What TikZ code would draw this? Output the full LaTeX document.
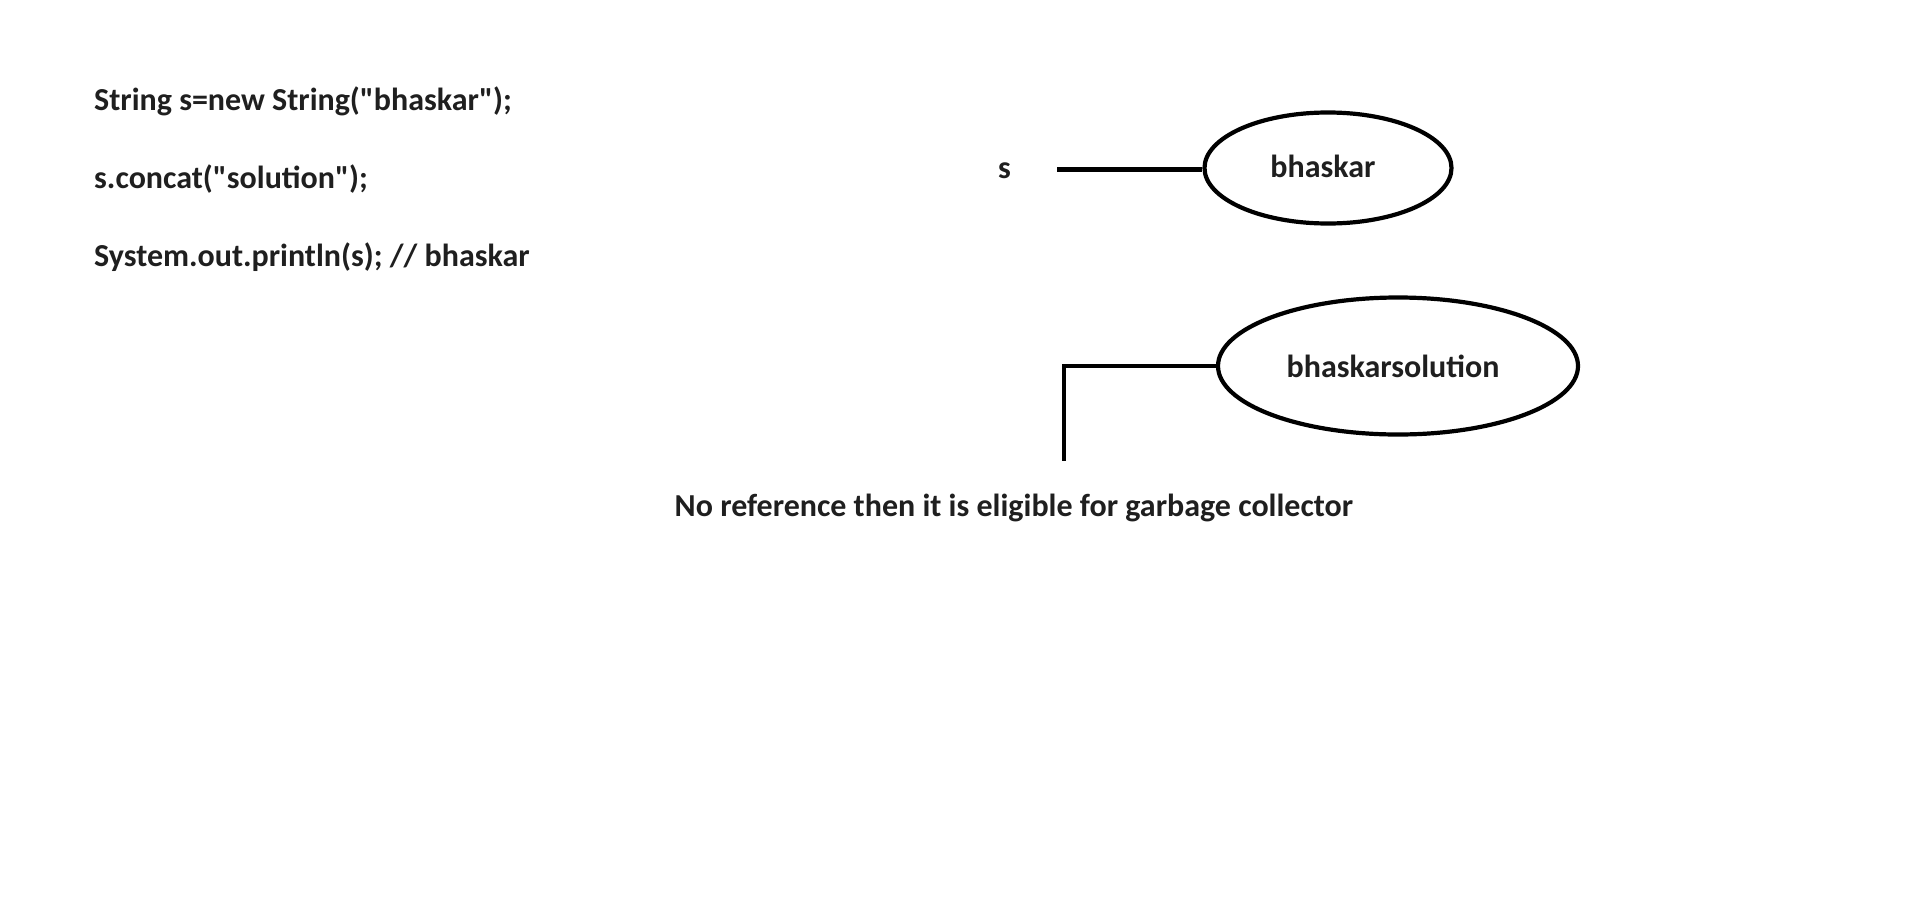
\documentclass[tikz,border=0pt]{standalone}
\usepackage{fontspec}
\setmainfont{Carlito}[Ligatures=TeXOff]
\usetikzlibrary{shapes.geometric}
\tikzset{
	codetext/.style={inner sep=0pt, font=\fontsize{32}{38}\selectfont\bfseries, text=black!88},
	strobj/.style={draw, ellipse, line width=4.2pt, inner sep=0pt, font=\fontsize{32}{38}\selectfont\bfseries, text=black!88},
	refline/.style={line width=4.2pt}
}

\begin{document}
\begin{tikzpicture}[x=1pt, y=-1pt]
			%%%%% START %%%%%
			\useasboundingbox[fill=white] (0, 0) rectangle (1913, 897);
			
			\node[codetext, anchor=west] (line1) at (94, 101) {String s=new String("bhaskar");};
			\node[codetext, anchor=west] (line2) at (94, 179) {s.concat("solution");};
			\node[codetext, anchor=west] (line3) at (94, 257) {System.out.println(s); // bhaskar};
			
			\node[codetext] (refs) at (1004.5, 171) {s};
			\coordinate (sref) at (1057, 169.5);
			
			\node[strobj, minimum width=247, minimum height=111] (objold) at (1328, 168) {\raisebox{4pt}{bhaskar}\hspace*{10pt}};
			\node[strobj, minimum width=360, minimum height=137] (objnew) at (1398, 366) {\raisebox{-3pt}{bhaskarsolution}\hspace*{10pt}};
			
			\draw[refline] (sref) -- (sref -| objold.west);
			
			\coordinate (dangling) at (1064, 461);
			\draw[refline] (objnew.west) -| (dangling);
			
			\node[codetext] (gcnote) at (1014, 508) {No reference then it is eligible for garbage collector};
			%%%%% END %%%%%
\end{tikzpicture}
\end{document}
